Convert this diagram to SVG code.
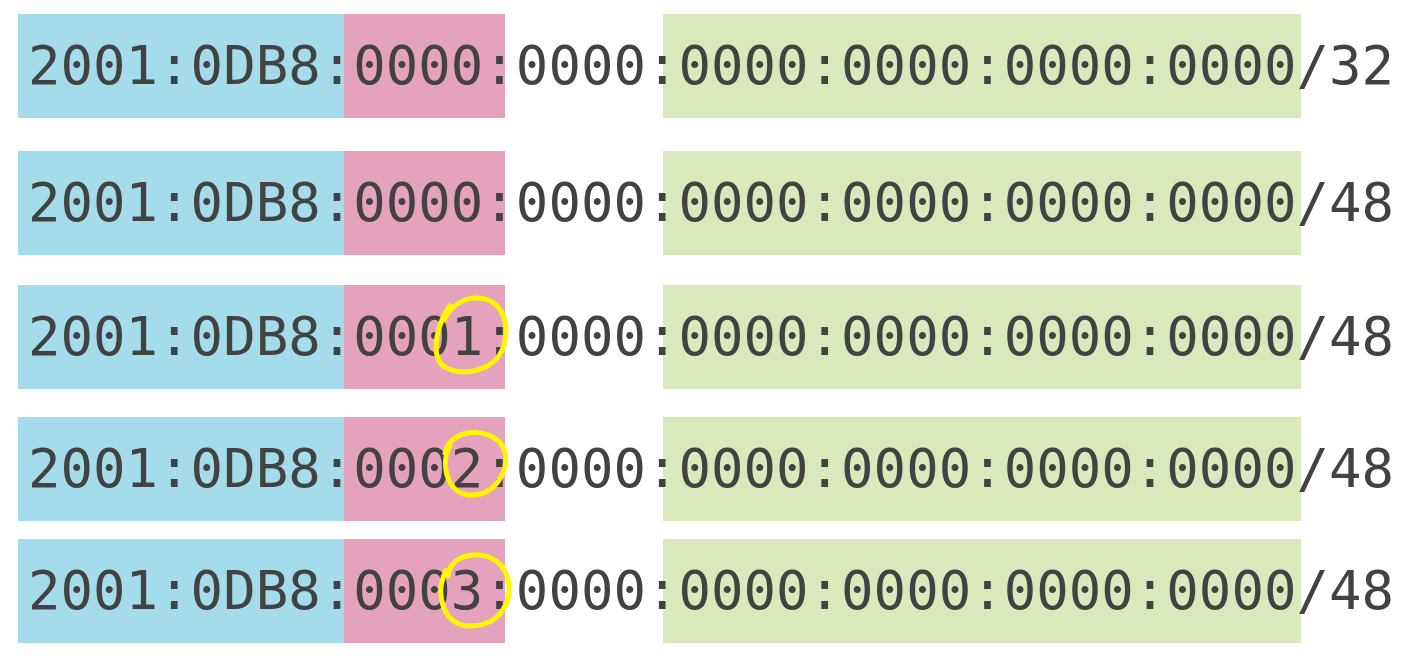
<svg xmlns="http://www.w3.org/2000/svg" width="1403" height="658" viewBox="0 0 1403 658">
<style>
.b{fill:#a4dceb}
.p{fill:#e5a2bc}
.g{fill:#d9e9bc}
.t{font-family:"DejaVu Sans Mono","Liberation Mono",monospace;font-size:54px;fill:#424242}
.y{fill:none;stroke:#fff600;stroke-width:5;stroke-linecap:round;stroke-linejoin:round}
</style>
<rect width="1403" height="658" fill="#ffffff"/>
<g id="row1">
<rect class="b" x="18" y="14" width="326" height="104"/>
<rect class="p" x="344" y="14" width="161" height="104"/>
<rect class="g" x="663" y="14" width="638" height="104"/>
<text class="t" x="28" y="84" textLength="1366" lengthAdjust="spacing">2001:0DB8:0000:0000:0000:0000:0000:0000/32</text>
</g>
<g id="row2">
<rect class="b" x="18" y="151" width="326" height="104"/>
<rect class="p" x="344" y="151" width="161" height="104"/>
<rect class="g" x="663" y="151" width="638" height="104"/>
<text class="t" x="28" y="221" textLength="1366" lengthAdjust="spacing">2001:0DB8:0000:0000:0000:0000:0000:0000/48</text>
</g>
<g id="row3">
<rect class="b" x="18" y="285" width="326" height="104"/>
<rect class="p" x="344" y="285" width="161" height="104"/>
<rect class="g" x="663" y="285" width="638" height="104"/>
<text class="t" x="28" y="355" textLength="1366" lengthAdjust="spacing">2001:0DB8:0001:0000:0000:0000:0000:0000/48</text>
</g>
<g id="row4">
<rect class="b" x="18" y="417" width="326" height="104"/>
<rect class="p" x="344" y="417" width="161" height="104"/>
<rect class="g" x="663" y="417" width="638" height="104"/>
<text class="t" x="28" y="487" textLength="1366" lengthAdjust="spacing">2001:0DB8:0002:0000:0000:0000:0000:0000/48</text>
</g>
<g id="row5">
<rect class="b" x="18" y="539" width="326" height="104"/>
<rect class="p" x="344" y="539" width="161" height="104"/>
<rect class="g" x="663" y="539" width="638" height="104"/>
<text class="t" x="28" y="609" textLength="1366" lengthAdjust="spacing">2001:0DB8:0003:0000:0000:0000:0000:0000/48</text>
</g>
<g id="highlights">
<path class="y" d="M450,306 C438,322 430,352 442,365 C458,378 496,373 504,345 C511,318 498,298 477,298 C463,298 451,306 444,320"/>
<path class="y" d="M450,445 C439,466 449,495 470,495 C496,496 509,470 505,452 C500,435 480,430 464,434 C454,437 447,444 445,453"/>
<path class="y" d="M446,570 C434,596 444,626 470,626 C501,626 513,600 508,579 C503,559 484,552 467,556 C457,558 449,565 448,576"/>
</g>
</svg>
